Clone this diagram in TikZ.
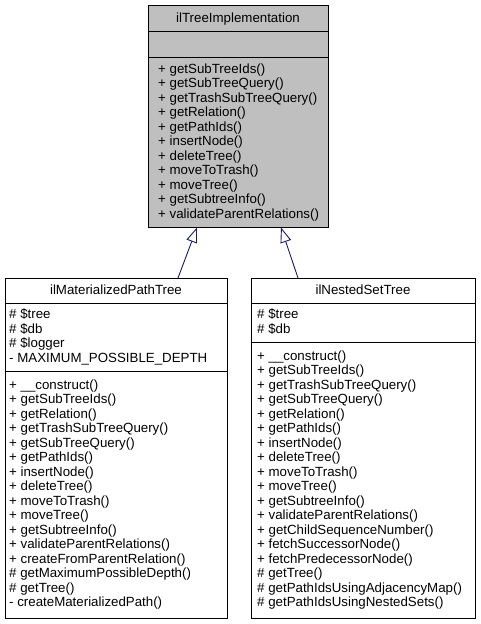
\documentclass[tikz,border=0pt]{standalone}
\usepackage{fontspec}
\setmainfont{Liberation Sans}
\usetikzlibrary{arrows.meta}
\definecolor{edgeblue}{HTML}{191970}
\definecolor{boxgray}{HTML}{BFBFBF}
\begin{document}
\begin{tikzpicture}[x=1pt,y=-1pt,
  classbox/.style={draw=black, line width=0.9pt, anchor=north west, inner sep=0pt, outer sep=0pt},
  sepline/.style={draw=black, line width=0.9pt},
  members/.style={anchor=north west, inner sep=0pt, align=left, font=\fontsize{13.3}{14.5}\selectfont},
  ctitle/.style={anchor=base, inner sep=0pt, font=\fontsize{13.3}{14.5}\selectfont},
  inherit/.style={draw=edgeblue, line width=0.9pt, -{Triangle[length=15pt, width=11pt, fill=white]}}
]
\useasboundingbox (0,0) rectangle (480,624);

% ---------- base class ----------
\node[classbox, fill=boxgray, minimum width=180pt, minimum height=222.5pt] (base) at (148,5) {};
\node[ctitle] (baseT) at (238,22.4) {ilTreeImplementation};
\draw[sepline] (148,31) -- (328,31);
\draw[sepline] (148,57) -- (328,57);
\node[members] (baseM) at (158,63) {\strut+ getSubTreeIds()\\
+ getSubTreeQuery()\\
+ getTrashSubTreeQuery()\\
+ getRelation()\\
+ getPathIds()\\
+ insertNode()\\
+ deleteTree()\\
+ moveToTrash()\\
+ moveTree()\\
+ getSubtreeInfo()\\
+ validateParentRelations()};

% ---------- ilMaterializedPathTree ----------
\node[classbox, fill=white, minimum width=222pt, minimum height=340pt] (mpt) at (5,278) {};
\node[ctitle] (mptT) at (116,294.8) {ilMaterializedPathTree};
\draw[sepline] (5,303) -- (227,303);
\draw[sepline] (5,371) -- (227,371);
\node[members] (mptA) at (9,308.5) {\strut\# \$tree\\
\# \$db\\
\# \$logger\\
- MAXIMUM\_POSSIBLE\_DEPTH};
\node[members] (mptM) at (9,379) {\strut+ \_\_construct()\\
+ getSubTreeIds()\\
+ getRelation()\\
+ getTrashSubTreeQuery()\\
+ getSubTreeQuery()\\
+ getPathIds()\\
+ insertNode()\\
+ deleteTree()\\
+ moveToTrash()\\
+ moveTree()\\
+ getSubtreeInfo()\\
+ validateParentRelations()\\
+ createFromParentRelation()\\
\# getMaximumPossibleDepth()\\
\# getTree()\\
- createMaterializedPath()};

% ---------- ilNestedSetTree ----------
\node[classbox, fill=white, minimum width=224pt, minimum height=340pt] (nst) at (251,278) {};
\node[ctitle] (nstT) at (363,294.8) {ilNestedSetTree};
\draw[sepline] (251,303) -- (475,303);
\draw[sepline] (251,342) -- (475,342);
\node[members] (nstA) at (257,308.5) {\strut\# \$tree\\
\# \$db};
\node[members] (nstM) at (257,350) {\strut+ \_\_construct()\\
+ getSubTreeIds()\\
+ getTrashSubTreeQuery()\\
+ getSubTreeQuery()\\
+ getRelation()\\
+ getPathIds()\\
+ insertNode()\\
+ deleteTree()\\
+ moveToTrash()\\
+ moveTree()\\
+ getSubtreeInfo()\\
+ validateParentRelations()\\
+ getChildSequenceNumber()\\
+ fetchSuccessorNode()\\
+ fetchPredecessorNode()\\
\# getTree()\\
\# getPathIdsUsingAdjacencyMap()\\
\# getPathIdsUsingNestedSets()};

% ---------- inheritance ----------
\coordinate (tipL) at ([xshift=49pt]base.south west);
\coordinate (tipR) at ([xshift=133pt]base.south west);
\coordinate (srcL) at ([xshift=173pt]mpt.north west);
\coordinate (srcR) at ([xshift=47pt]nst.north west);
\draw[inherit] (srcL) -- (tipL);
\draw[inherit] (srcR) -- (tipR);
\end{tikzpicture}
\end{document}
